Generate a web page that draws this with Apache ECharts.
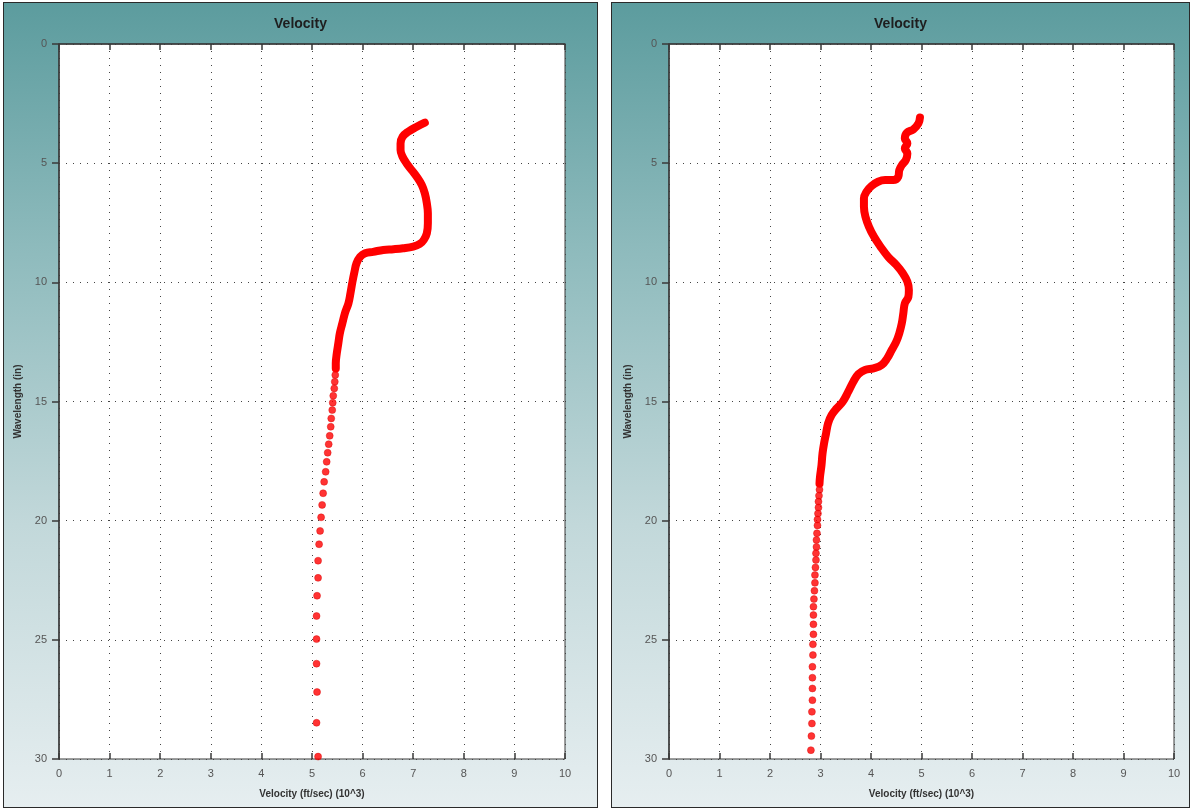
<!DOCTYPE html>
<html>
<head>
<meta charset="utf-8">
<script src="https://cdn.jsdelivr.net/npm/echarts@6/dist/echarts.min.js"></script>
<style>
  body { margin: 0; background: #fff; width: 1192px; height: 811px; position: relative; overflow: hidden; }
  .panel {
    position: absolute; top: 2px; height: 806px; box-sizing: border-box;
    border: 1px solid #2a2a2a;
    background: linear-gradient(to bottom, #5c9c9e 0%, #8dbabc 30%, #c2d8da 65%, #e6eef0 100%);
  }
  #main1 { left: 3px; width: 595px; }
  #main2 { left: 611px; width: 579px; }
</style>
</head>
<body>
<div id="main1" class="panel"></div>
<div id="main2" class="panel"></div>
<script>
// 左图：连续段（波长 in, 速度 10^3 ft/s）
const leftLineWave = [3.30,3.47,3.68,3.89,4.17,4.45,4.73,5.01,5.29,5.57,5.92,6.27,6.69,7.10,7.52,7.94,8.22,8.39,8.50,8.57,8.61,8.64,8.72,8.78,8.93,9.20,9.55,9.97,10.46,10.88,11.30,11.72,12.14,12.56,12.98,13.40,13.62];
const leftLineVel  = [7.23,7.07,6.90,6.79,6.75,6.75,6.79,6.87,6.97,7.07,7.17,7.23,7.27,7.29,7.29,7.27,7.21,7.13,7.00,6.80,6.61,6.41,6.21,6.05,5.95,5.88,5.84,5.80,5.76,5.72,5.65,5.60,5.55,5.52,5.49,5.47,5.47];
// 左图：离散点
const leftDotWave = [13.89,14.17,14.45,14.76,15.05,15.36,15.71,16.06,16.44,16.79,17.15,17.53,17.95,18.37,18.85,19.34,19.86,20.43,20.99,21.68,22.40,23.15,24.00,24.97,26.00,27.19,28.48,29.90];
const leftDotVel  = [5.46,5.45,5.44,5.42,5.41,5.40,5.38,5.37,5.35,5.33,5.31,5.29,5.27,5.24,5.22,5.20,5.18,5.16,5.14,5.12,5.12,5.10,5.09,5.09,5.09,5.10,5.09,5.12];

// 右图：连续段
const rightLineWave = [3.08,3.33,3.58,3.72,3.96,4.17,4.38,4.59,4.87,5.08,5.29,5.57,5.71,5.71,5.78,5.96,6.20,6.48,6.83,7.25,7.67,8.09,8.51,8.93,9.27,9.62,9.97,10.32,10.61,10.88,11.30,11.72,12.14,12.49,12.84,13.19,13.47,13.61,13.68,13.85,14.17,14.59,15.01,15.29,15.57,15.92,16.34,16.76,17.18,17.67,18.16,18.45];
const rightLineVel  = [4.97,4.94,4.84,4.71,4.67,4.72,4.67,4.72,4.69,4.61,4.56,4.54,4.44,4.28,4.14,4.01,3.91,3.86,3.86,3.89,3.96,4.06,4.19,4.34,4.50,4.63,4.72,4.75,4.74,4.67,4.64,4.61,4.56,4.50,4.41,4.32,4.21,4.05,3.88,3.75,3.65,3.55,3.44,3.32,3.22,3.15,3.11,3.07,3.04,3.02,2.99,2.98];
// 右图：离散点
const rightDotWave = [18.70,18.95,19.20,19.45,19.70,19.95,20.20,20.53,20.81,21.10,21.37,21.65,21.96,22.28,22.61,22.94,23.29,23.61,23.96,24.35,24.77,25.19,25.64,26.13,26.59,27.04,27.53,28.02,28.51,29.04,29.63];
const rightDotVel  = [2.98,2.97,2.96,2.96,2.95,2.94,2.94,2.93,2.92,2.92,2.91,2.91,2.90,2.89,2.89,2.88,2.87,2.86,2.86,2.86,2.86,2.85,2.85,2.84,2.84,2.84,2.84,2.83,2.83,2.82,2.81];

const xTicks = [0,1,2,3,4,5,6,7,8,9,10];
const yTicks = [0,5,10,15,20,25,30];

const pairs = (vel, wave) => vel.map((v, i) => [v, wave[i]]);

// 生成单个图表配置
function makeOption(lineData, dotData, gridLeft, gridWidth) {
	const dotted = { color: "#444", width: 1, type: [1, 6] };
	return {
		animation: false,
		title: {
			text: "Velocity",
			left: "center",
			top: 9,
			textStyle: { fontFamily: "Liberation Sans", fontSize: 14, fontWeight: "bold", color: "#1e1e1e" },
		},
		grid: {
			left: gridLeft, top: 41, width: gridWidth, height: 715,
			show: true, backgroundColor: "#fff", borderColor: "#3a3a3a", borderWidth: 1,
		},
		xAxis: [
			{
				type: "value", min: xTicks[0], max: xTicks[xTicks.length - 1], interval: 1,
				name: "Velocity (ft/sec) (10^3)", nameLocation: "middle", nameGap: 30,
				nameTextStyle: { fontFamily: "Liberation Sans", fontSize: 10, fontWeight: "bold", color: "#333" },
				axisLine: { lineStyle: { color: "#3a3a3a", width: 1.5 } },
				axisTick: { length: 6, lineStyle: { color: "#3a3a3a", width: 1.5 } },
				axisLabel: { margin: 9, fontFamily: "Liberation Sans", fontSize: 11, color: "#555" },
				splitLine: { show: true, lineStyle: dotted },
			},
			{
				// 轴内侧刻度
				type: "value", min: 0, max: 10, interval: 1, position: "bottom",
				axisLine: { show: false },
				axisTick: { inside: true, length: 6, lineStyle: { color: "#3a3a3a", width: 1.5 } },
				axisLabel: { show: false },
				splitLine: { show: false },
			},
		],
		yAxis: {
			type: "value", inverse: true, min: yTicks[0], max: yTicks[yTicks.length - 1], interval: 5,
			name: "Wavelength (in)", nameLocation: "middle", nameGap: 36,
			nameTextStyle: { fontFamily: "Liberation Sans", fontSize: 10, fontWeight: "bold", color: "#333" },
			axisLine: { lineStyle: { color: "#3a3a3a", width: 1.5 } },
			axisTick: { length: 7, lineStyle: { color: "#3a3a3a", width: 1.5 } },
			axisLabel: { margin: 12, fontFamily: "Liberation Sans", fontSize: 11, color: "#555" },
			splitLine: { show: true, lineStyle: dotted },
		},
		series: [
			{
				type: "line", data: lineData, smooth: 0.4, showSymbol: false,
				lineStyle: { color: "#f00", width: 8, cap: "round", join: "round" },
			},
			{
				type: "scatter", data: dotData, symbolSize: 7,
				itemStyle: { color: "#f00", borderColor: "#d80000", borderWidth: 0.5 },
			},
		],
	};
}

document.addEventListener("DOMContentLoaded", function () {
	var ChartInstance1 = echarts.init(document.getElementById("main1"));
	ChartInstance1.setOption(makeOption(pairs(leftLineVel, leftLineWave), pairs(leftDotVel, leftDotWave), 55, 506));

	var ChartInstance2 = echarts.init(document.getElementById("main2"));
	ChartInstance2.setOption(makeOption(pairs(rightLineVel, rightLineWave), pairs(rightDotVel, rightDotWave), 57, 505));
});
</script>
</body>
</html>
